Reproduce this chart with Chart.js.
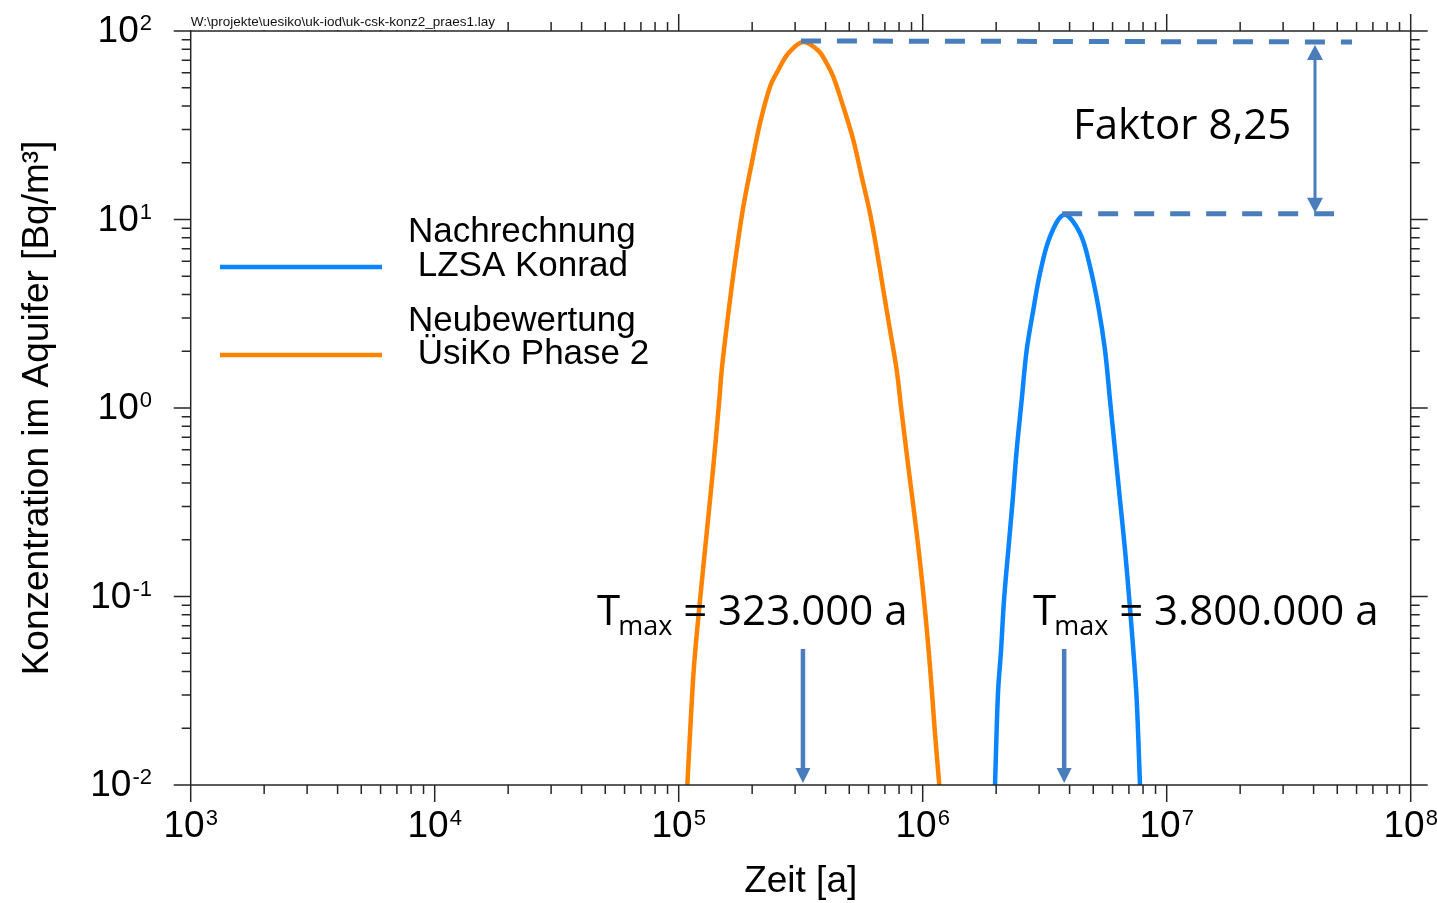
<!DOCTYPE html>
<html>
<head>
<meta charset="utf-8">
<script src="https://cdn.jsdelivr.net/npm/chart.js@4/dist/chart.umd.min.js"></script>
<style>
  html, body { margin: 0; padding: 0; background: #fff; }
  #wrap { width: 1437px; height: 903px; }
</style>
</head>
<body>
<div id="wrap"><canvas id="c" width="1437" height="903"></canvas></div>
<script>
// Neubewertung ÜsiKo Phase 2: time [a] and concentration [Bq/m³]
const neuTime = [1.085e5, 1.113e5, 1.155e5, 1.223e5, 1.302e5, 1.386e5, 1.463e5, 1.501e5, 1.573e5,
  1.649e5, 1.729e5, 1.840e5, 1.992e5, 2.154e5, 2.367e5, 2.560e5, 2.810e5, 3.23e5,
  3.720e5, 4.042e5, 4.301e5,
  4.727e5, 5.195e5, 5.623e5, 6.081e5, 6.479e5, 6.895e5, 7.345e5, 7.823e5, 8.148e5, 8.730e5,
  9.450e5, 1.0123e6, 1.0713e6, 1.1230e6, 1.1695e6];
const neuConc = [0.0100, 0.0188, 0.0424, 0.0958, 0.2164, 0.4883, 1.059, 1.591, 2.700,
  4.401, 6.89, 11.69, 19.87, 32.38, 50.64, 62.1, 76.0, 87.45,
  79.0, 67.4, 57.2,
  39.67, 26.42, 16.87, 10.79, 6.89, 4.227, 2.593, 1.591, 1.016, 0.4883,
  0.2164, 0.0958, 0.0424, 0.0188, 0.0100];

// Nachrechnung LZSA Konrad
const lzsaTime = [1.979e6, 2.035e6, 2.095e6, 2.154e6, 2.243e6, 2.338e6, 2.428e6, 2.545e6, 2.668e6,
  2.840e6, 3.025e6, 3.324e6, 3.8e6, 4.413e6, 4.851e6, 5.245e6, 5.586e6, 5.856e6, 6.140e6,
  6.436e6, 6.748e6, 7.027e6, 7.297e6, 7.534e6, 7.773e6];
const lzsaConc = [0.0100, 0.0307, 0.0520, 0.0958, 0.1765, 0.3251, 0.5986, 1.102, 2.030,
  3.311, 5.183, 8.105, 10.6, 8.45, 5.618, 3.447, 2.030, 1.102, 0.5986,
  0.3251, 0.1765, 0.0958, 0.0520, 0.0283, 0.0100];

// Axis decades (exponents) and labels
const xExponents = [3, 4, 5, 6, 7, 8];
const yExponents = [-2, -1, 0, 1, 2];
const xTitle = 'Zeit [a]';
const yTitle = 'Konzentration im Aquifer [Bq/m³]';
const legendLabels = [['Nachrechnung', ' LZSA Konrad'], ['Neubewertung', ' ÜsiKo Phase 2']];
const fileLabel = 'W:\\projekte\\uesiko\\uk-iod\\uk-csk-konz2_praes1.lay';

// Times of maximum and ratio of the two peaks
const tmaxNeu = 323000;
const tmaxLzsa = 3800000;
const tmaxNeuText = '323.000 a';
const tmaxLzsaText = '3.800.000 a';
const factorText = 'Faktor 8,25';

const BLUE = '#0a84ff';
const ORANGE = '#ff8300';
const ANNOT = '#4a7dbb';
const AXIS = '#262626';
const SANS = '"Liberation Sans", Arial, sans-serif';
const CAL = '"Open Sans", "Noto Sans", sans-serif';

function toPoints(ts, cs) { return ts.map((t, i) => ({ x: t, y: cs[i] })); }

function drawPower(ctx, exp, x, baseY, align) {
  // "10" with superscript exponent; baseY is the baseline of "10"
  ctx.font = '37px ' + SANS;
  const wb = ctx.measureText('10').width;
  ctx.font = '22px ' + SANS;
  const es = String(exp);
  const we = ctx.measureText(es).width;
  const total = wb + we + 1;
  let left = align === 'center' ? x - total / 2 : x - total;
  ctx.textAlign = 'left';
  ctx.textBaseline = 'alphabetic';
  ctx.font = '37px ' + SANS;
  ctx.fillText('10', left, baseY);
  ctx.font = '22px ' + SANS;
  ctx.fillText(es, left + wb + 1, baseY - 12);
}

function arrowHead(ctx, x, tipY, dir, len, half) {
  ctx.beginPath();
  ctx.moveTo(x, tipY);
  ctx.lineTo(x - half, tipY - dir * len);
  ctx.lineTo(x + half, tipY - dir * len);
  ctx.closePath();
  ctx.fill();
}

const framePlugin = {
  id: 'frame',
  afterDatasetsDraw(chart) {
    const ctx = chart.ctx;
    const a = chart.chartArea;
    const xs = chart.scales.x, ys = chart.scales.y;
    ctx.save();

    // frame
    ctx.strokeStyle = AXIS;
    ctx.lineWidth = 1.5;
    ctx.strokeRect(a.left, a.top, a.right - a.left, a.bottom - a.top);

    // ticks on all four sides, pointing outwards
    const MAJ = 17, MIN = 9;
    ctx.beginPath();
    xExponents.forEach((e, i) => {
      const steps = i < xExponents.length - 1 ? [1, 2, 3, 4, 5, 6, 7, 8, 9] : [1];
      steps.forEach(k => {
        const px = xs.getPixelForValue(k * Math.pow(10, e));
        const L = k === 1 ? MAJ : MIN;
        ctx.moveTo(px, a.bottom); ctx.lineTo(px, a.bottom + L);
        ctx.moveTo(px, a.top); ctx.lineTo(px, a.top - L);
      });
    });
    yExponents.forEach((e, i) => {
      const steps = i < yExponents.length - 1 ? [1, 2, 3, 4, 5, 6, 7, 8, 9] : [1];
      steps.forEach(k => {
        const py = ys.getPixelForValue(k * Math.pow(10, e));
        const L = k === 1 ? MAJ : MIN;
        ctx.moveTo(a.left, py); ctx.lineTo(a.left - L, py);
        ctx.moveTo(a.right, py); ctx.lineTo(a.right + L, py);
      });
    });
    ctx.stroke();

    // tick labels
    ctx.fillStyle = '#000';
    xExponents.forEach(e => {
      drawPower(ctx, e, xs.getPixelForValue(Math.pow(10, e)), a.bottom + 52, 'center');
    });
    yExponents.forEach(e => {
      drawPower(ctx, e, 152, ys.getPixelForValue(Math.pow(10, e)) + 11, 'right');
    });

    // axis titles
    ctx.font = '37px ' + SANS;
    ctx.textAlign = 'center';
    ctx.textBaseline = 'alphabetic';
    ctx.fillText(xTitle, (a.left + a.right) / 2, 892);
    ctx.save();
    ctx.translate(48, (a.top + a.bottom) / 2);
    ctx.rotate(-Math.PI / 2);
    ctx.fillText(yTitle, 0, 0);
    ctx.restore();

    // file path label on the top edge
    ctx.font = '13.5px ' + SANS;
    const fw = ctx.measureText(fileLabel).width;
    ctx.fillStyle = '#fff';
    ctx.fillRect(a.left - 1, 10, fw + 10, a.top - 11);
    ctx.fillStyle = '#111';
    ctx.textAlign = 'left';
    ctx.fillText(fileLabel, a.left, 26);

    // legend
    const legendColors = [BLUE, ORANGE];
    const legendY = [267, 355];
    const legendBase = [[242, 276], [331, 364]];
    ctx.lineWidth = 4.5;
    ctx.lineCap = 'butt';
    legendColors.forEach((c, i) => {
      ctx.strokeStyle = c;
      ctx.beginPath();
      ctx.moveTo(220, legendY[i]); ctx.lineTo(382, legendY[i]);
      ctx.stroke();
    });
    ctx.fillStyle = '#000';
    ctx.font = '35px ' + SANS;
    legendLabels.forEach((lines, i) => {
      lines.forEach((s, j) => ctx.fillText(s, 408, legendBase[i][j]));
    });

    // peak guide lines and factor arrow
    const peakNeu = Math.max(...neuConc);
    const peakLzsa = Math.max(...lzsaConc);
    const yNeu = ys.getPixelForValue(peakNeu);
    const yLzsa = ys.getPixelForValue(peakLzsa);
    const xNeu = xs.getPixelForValue(tmaxNeu);
    const xLzsa = xs.getPixelForValue(tmaxLzsa);
    ctx.strokeStyle = ANNOT;
    ctx.fillStyle = ANNOT;
    ctx.lineWidth = 5;
    ctx.setLineDash([20, 16]);
    ctx.beginPath();
    ctx.moveTo(xNeu - 2, yNeu - 1); ctx.lineTo(1352, yNeu);
    ctx.moveTo(xLzsa - 2, yLzsa - 1); ctx.lineTo(1334, yLzsa - 1);
    ctx.stroke();
    ctx.setLineDash([]);

    const ax = 1315;
    ctx.lineWidth = 3;
    ctx.beginPath();
    ctx.moveTo(ax, yNeu + 14); ctx.lineTo(ax, yLzsa - 14);
    ctx.stroke();
    arrowHead(ctx, ax, yNeu + 3, -1, 15, 8);
    arrowHead(ctx, ax, yLzsa - 2, 1, 15, 8);

    // Tmax arrows
    ctx.lineWidth = 4.5;
    [xNeu, xLzsa].forEach(x => {
      ctx.beginPath();
      ctx.moveTo(x, 649); ctx.lineTo(x, 770);
      ctx.stroke();
      arrowHead(ctx, x, a.bottom - 2, 1, 15, 7.5);
    });

    // annotation texts
    ctx.fillStyle = '#000';
    ctx.textAlign = 'left';
    ctx.font = '42px ' + CAL;
    ctx.fillText(factorText, 1073, 139);

    function tmaxLabel(x, value) {
      ctx.font = '42px ' + CAL;
      ctx.fillText('T', x, 625);
      const wT = ctx.measureText('T').width;
      ctx.font = '27px ' + CAL;
      ctx.fillText('max', x + wT - 2, 635);
      const wm = ctx.measureText('max').width;
      ctx.font = '42px ' + CAL;
      ctx.fillText(' = ' + value, x + wT - 2 + wm, 625);
    }
    tmaxLabel(597, tmaxNeuText);
    tmaxLabel(1033, tmaxLzsaText);

    ctx.restore();
  }
};

new Chart(document.getElementById('c'), {
  type: 'line',
  data: {
    datasets: [
      {
        label: 'Nachrechnung LZSA Konrad',
        data: toPoints(lzsaTime, lzsaConc),
        borderColor: BLUE,
        borderWidth: 4.5,
        pointRadius: 0,
        tension: 0.35,
        fill: false
      },
      {
        label: 'Neubewertung ÜsiKo Phase 2',
        data: toPoints(neuTime, neuConc),
        borderColor: ORANGE,
        borderWidth: 4.5,
        pointRadius: 0,
        tension: 0.35,
        fill: false
      }
    ]
  },
  options: {
    responsive: false,
    animation: false,
    devicePixelRatio: 1,
    layout: { padding: { left: 190.7, right: 26.3, top: 31, bottom: 118 } },
    scales: {
      x: { type: 'logarithmic', min: 1e3, max: 1e8, display: false },
      y: { type: 'logarithmic', min: 1e-2, max: 1e2, display: false }
    },
    plugins: { legend: { display: false }, tooltip: { enabled: false } }
  },
  plugins: [framePlugin]
});
</script>
</body>
</html>
